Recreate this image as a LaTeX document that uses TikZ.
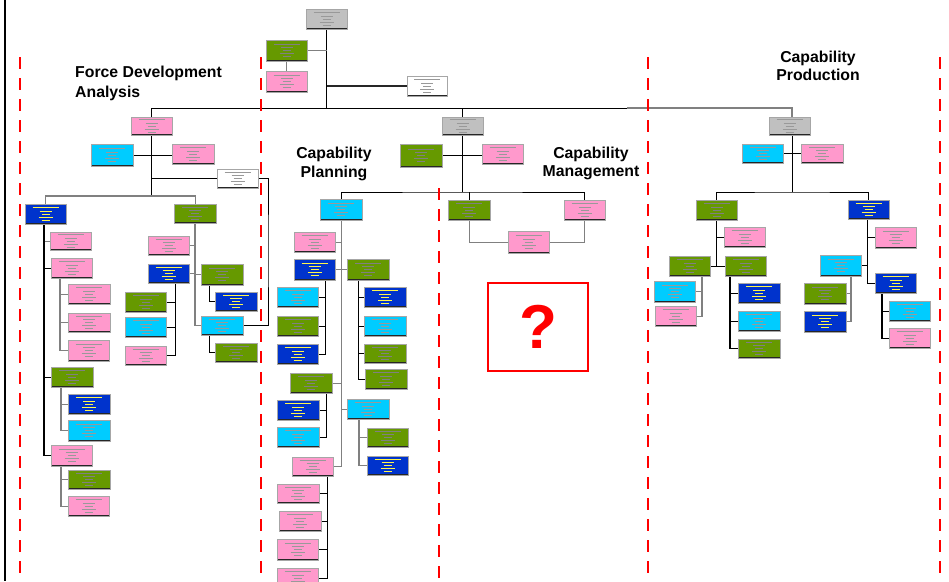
\documentclass[tikz,border=0pt]{standalone}
\usepackage{fontspec}
\setmainfont{Liberation Sans}
\usetikzlibrary{backgrounds}
\definecolor{pinkc}{HTML}{FF99CC}
\definecolor{cyanc}{HTML}{00CCFF}
\definecolor{greenc}{HTML}{669900}
\definecolor{bluec}{HTML}{0033CC}
\definecolor{grayc}{HTML}{C0C0C0}
\definecolor{redc}{HTML}{FF0000}
\definecolor{txtc}{HTML}{555555}
\newcommand\obox[6]{\node[obx,#2,minimum width=#5pt,minimum height=#6pt] (#1) at (#3,#4) {};}
\tikzset{
  txt/.code={\colorlet{txtc}{#1}},
  obx/.style={rectangle, draw=black!35, line width=0.4pt, inner sep=0pt, anchor=north west,
    path picture={
      \coordinate (ppc) at (path picture bounding box.center);
      \draw[line width=2.6pt, black!85] (path picture bounding box.south west) -- (path picture bounding box.south east);
      \foreach \yy/\ww in {-6.5/13, -3/6, 0/4, 3/7, 6/4}
        \draw[line width=0.45pt, txtc] ([shift={(-\ww,\yy)}]ppc) -- ([shift={(\ww,\yy)}]ppc);
    }},
  pinkb/.style={fill=pinkc, txt=black!40},
  cyanb/.style={fill=cyanc, txt=black!40},
  greenb/.style={fill=greenc, txt=black!50},
  blueb/.style={fill=bluec, txt=yellow!70},
  grayb/.style={fill=grayc, txt=black!40},
  whiteb/.style={fill=white, txt=black!40},
  ln/.style={draw=black, line width=0.9pt},
  lk/.style={draw=black, line width=1.4pt},
  lg/.style={draw=black!50, line width=1.1pt},
  lthick/.style={draw=black!85, line width=2pt},
  rdash/.style={draw=redc, line width=2pt, dash pattern=on 12pt off 9pt},
  lbl/.style={font=\fontsize{15.8}{19}\selectfont\bfseries, inner sep=0pt, anchor=base},
}
\begin{document}
\begin{tikzpicture}[x=1pt,y=-1pt]
\useasboundingbox (0,0) rectangle (949,581);
\begin{pgfonlayer}{background}
\fill[white] (0,0) rectangle (949,581);
\end{pgfonlayer}
% frame and dividers
\draw[line width=2.5pt, black] (5,0) -- (5,581);
\draw[rdash] (20,57) -- (20,581);
\draw[rdash] (261,57) -- (261,581);
\draw[rdash] (439,188) -- (439,581);
\draw[rdash] (648,57) -- (648,581);
\draw[rdash] (940,57) -- (940,581);
% section labels
\node[lbl, anchor=base west] (fdl1) at (75,77) {Force Development};
\node[lbl, anchor=base west] (fdl2) at (75,97) {Analysis};
\node[lbl] (cpl1) at (334,158) {Capability};
\node[lbl] (cpl2) at (334,177) {Planning};
\node[lbl] (cml1) at (591,158) {Capability};
\node[lbl] (cml2) at (591,176.5) {Management};
\node[lbl] (prl1) at (818,62) {Capability};
\node[lbl] (prl2) at (818,80.5) {Production};
% top
\obox{top}{grayb}{306}{9}{41}{20}
\obox{tg}{greenb}{266}{40}{41}{21}
\obox{tp}{pinkb}{266}{71}{41}{21}
\obox{tw}{whiteb}{407}{76}{40}{20}
% level 1
\obox{fd}{pinkb}{131}{117}{41}{18}
\obox{cp}{grayb}{442}{117}{41}{18}
\obox{pr}{grayb}{769}{117}{41}{18}
% force development
\obox{fdc}{cyanb}{91}{144}{42}{22}
\obox{fdp}{pinkb}{172}{144}{42}{20}
\obox{fdw}{whiteb}{217}{169}{41}{19}
\obox{fb}{blueb}{25}{204}{41}{20}
\obox{fg}{greenb}{174}{204}{42}{19}
\obox{fb1}{pinkb}{50}{232}{41}{18}
\obox{fb2}{pinkb}{51}{258}{41}{20}
\obox{fb2a}{pinkb}{68}{284}{42}{20}
\obox{fb2b}{pinkb}{68}{313}{42}{19}
\obox{fb2c}{pinkb}{68}{340}{41}{21}
\obox{fb3}{greenb}{51}{367}{42}{20}
\obox{fb3a}{blueb}{68}{394}{42}{20}
\obox{fb3b}{cyanb}{68}{420}{42}{21}
\obox{fb4}{pinkb}{51}{445}{41}{21}
\obox{fb4a}{greenb}{68}{470}{42}{19}
\obox{fb4b}{pinkb}{68}{496}{41}{20}
\obox{fg1}{pinkb}{148}{236}{41}{19}
\obox{fg2}{blueb}{148}{264}{41}{19}
\obox{fg3}{greenb}{201}{264}{42}{21}
\obox{fg3a}{blueb}{215}{292}{42}{19}
\obox{fg4}{cyanb}{201}{316}{42}{19}
\obox{fg4a}{greenb}{215}{343}{42}{19}
\obox{fg2a}{greenb}{125}{292}{41}{20}
\obox{fg2b}{cyanb}{125}{317}{41}{20}
\obox{fg2c}{pinkb}{125}{346}{41}{19}
% capability planning / management
\obox{cpg}{greenb}{400}{144}{42}{23}
\obox{cpp}{pinkb}{482}{144}{41}{20}
\obox{pl}{cyanb}{320}{199}{42}{21}
\obox{cm1}{greenb}{448}{200}{42}{20}
\obox{cm2}{pinkb}{564}{200}{41}{20}
\obox{cm3}{pinkb}{508}{231}{41}{22}
\obox{pl1}{pinkb}{294}{232}{41}{20}
\obox{pl2}{blueb}{294}{259}{41}{21}
\obox{pl2a}{cyanb}{277}{287}{41}{20}
\obox{pl2b}{greenb}{277}{316}{41}{20}
\obox{pl2c}{blueb}{277}{344}{41}{20}
\obox{pl3}{greenb}{347}{259}{42}{21}
\obox{pl3a}{blueb}{364}{287}{42}{20}
\obox{pl3b}{cyanb}{364}{316}{42}{20}
\obox{pl3c}{greenb}{364}{344}{42}{19}
\obox{pl3d}{greenb}{365}{369}{42}{20}
\obox{pl4}{greenb}{290}{373}{42}{20}
\obox{pl4a}{blueb}{277}{400}{42}{20}
\obox{pl4b}{cyanb}{277}{427}{42}{20}
\obox{pl5}{cyanb}{347}{399}{42}{20}
\obox{pl5a}{greenb}{367}{428}{41}{19}
\obox{pl5b}{blueb}{367}{456}{41}{19}
\obox{pl6}{pinkb}{292}{457}{41}{19}
\obox{pl6a}{pinkb}{277}{484}{42}{19}
\obox{pl6b}{pinkb}{279}{511}{42}{20}
\obox{pl6c}{pinkb}{277}{539}{41}{21}
\obox{pl6d}{pinkb}{277}{568}{41}{20}
% production
\obox{prc}{cyanb}{742}{144}{41}{19}
\obox{prp}{pinkb}{801}{144}{42}{19}
\obox{pa}{greenb}{696}{200}{41}{20}
\obox{pb}{blueb}{848}{200}{41}{19}
\obox{pa1}{pinkb}{724}{227}{41}{20}
\obox{pa2}{greenb}{669}{256}{41}{20}
\obox{pa3}{greenb}{725}{256}{41}{20}
\obox{pa2a}{cyanb}{654}{281}{41}{21}
\obox{pa2b}{pinkb}{655}{306}{41}{20}
\obox{pa3a}{blueb}{738}{283}{42}{20}
\obox{pa3b}{cyanb}{738}{311}{42}{20}
\obox{pa3c}{greenb}{738}{339}{42}{19}
\obox{pb1}{pinkb}{875}{227}{41}{21}
\obox{pb2}{cyanb}{820}{255}{41}{21}
\obox{pb2a}{greenb}{804}{283}{42}{21}
\obox{pb2b}{blueb}{804}{311}{42}{21}
\obox{pb3}{blueb}{875}{273}{41}{20}
\obox{pb3a}{cyanb}{889}{301}{41}{20}
\obox{pb3b}{pinkb}{889}{328}{41}{20}
% question box
\node[draw=redc, line width=2.5pt, minimum width=100pt, minimum height=88pt, inner sep=0pt] (qbox) at (538,327) {};
\node[text=redc, font=\fontsize{62}{62}\selectfont\bfseries, inner sep=0pt] (qmark) at (qbox.center) {?};
% coordinates
\coordinate (bj) at (627,108);
\coordinate (fdbar) at (152,196);
\coordinate (wr) at (268,250);
\coordinate (cpy) at (462,192);
\coordinate (pry) at (792,192);
\coordinate (prx) at (792,108);
\begin{pgfonlayer}{background}
% top connectors
\draw[ln] (top.south) -- (top.south |- bj);
\draw[lg] (tg.east) -- (tg.east -| top.south);
\draw[lg] (tg.south) -- (tp.north);
\draw[lthick] (tw.west) -- (tw.west -| top.south);
\draw[ln] (fd.north) |- (bj);
\draw[lg] (bj) -- (prx) -- (prx |- pr.north);
\draw[ln] (cp.north) -- (cp.north |- bj);
% force development
\draw[ln] (fd.south) -- (fd.south |- fdbar);
\draw[ln] (fdc.east) -- (fdc.east -| fdp.west);
\draw[ln] (fdw.west) -- (fdw.west -| fd.south);
\draw[line width=0.7pt] (fdw.east) -| (wr) |- (fg4.east);
\draw[lg] (fb.north) |- (fdbar) -| (fg.north);
\draw[lg] (fb.south west) ++(19,0) |- (fb1.west);
\draw[lk] (fb.south west) ++(19,0) |- (fb2.west);
\draw[lk] (fb.south west) ++(19,0) |- (fb3.west);
\draw[lk] (fb.south west) ++(19,0) |- (fb4.west);
\foreach \c in {fb2a,fb2b,fb2c} \draw[lg] (fb2.south west) ++(9,0) |- (\c.west);
\foreach \c in {fb3a,fb3b} \draw[lg] (fb3.south west) ++(10,0) |- (\c.west);
\foreach \c in {fb4a,fb4b} \draw[lg] (fb4.south west) ++(10,0) |- (\c.west);
\foreach \c in {fg1,fg2} \draw[lg] (fg.south west) ++(21,0) |- (\c.east);
\foreach \c in {fg3,fg4} \draw[lg] (fg.south west) ++(21,0) |- (\c.west);
\draw[ln] (fg3.south west) ++(8,0) |- (fg3a.west);
\draw[ln] (fg4.south west) ++(8,0) |- (fg4a.west);
\foreach \c in {fg2a,fg2b,fg2c} \draw[ln] (fg2.south west) ++(27,0) |- (\c.east);
% capability planning / management
\draw[ln] (cp.south) -- (cp.south |- cpy);
\draw[ln] (cpg.east) -- (cpg.east -| cpp.west);
\draw[ln] (pl.north) |- (cpy) -| (cm2.north);
\draw[ln] (cm1.north) -- (cm1.north |- cpy);
\draw[lg] (cm1.south) |- (cm3.west);
\draw[lg] (cm2.south) |- (cm3.east);
\foreach \c in {pl1,pl2,pl4,pl6} \draw[lg] (pl.south) |- (\c.east);
\foreach \c in {pl3,pl5} \draw[lg] (pl.south) |- (\c.west);
\foreach \c in {pl2a,pl2b,pl2c} \draw[ln] (pl2.south west) ++(31,0) |- (\c.east);
\foreach \c in {pl3a,pl3b,pl3c,pl3d} \draw[ln] (pl3.south west) ++(11,0) |- (\c.west);
\foreach \c in {pl4a,pl4b} \draw[ln] (pl4.south west) ++(36,0) |- (\c.east);
\foreach \c in {pl5a,pl5b} \draw[lg] (pl5.south west) ++(12,0) |- (\c.west);
\foreach \c in {pl6a,pl6b,pl6c,pl6d} \draw[ln] (pl6.south west) ++(35,0) |- (\c.east);
% production
\draw[ln] (pr.south west) ++(23,0) -- (pry);
\draw[ln] (prc.east) -- (prc.east -| prp.west);
\draw[ln] (pa.north) |- (pry) -| (pb.north);
\draw[ln] (pa.south) |- (pa1.west);
\draw[ln] (pa.south) |- (pa2.east);
\draw[ln] (pa2.east) -- (pa3.west);
\foreach \c in {pa2a,pa2b} \draw[lg] (pa2.south west) ++(33,0) |- (\c.east);
\foreach \c in {pa3a,pa3b,pa3c} \draw[lk] (pa3.south west) ++(5,0) |- (\c.west);
\draw[ln] (pb.south west) ++(19,0) |- (pb1.west);
\draw[ln] (pb.south west) ++(19,0) |- (pb2.east);
\draw[ln] (pb.south west) ++(19,0) |- (pb3.west);
\foreach \c in {pb2a,pb2b} \draw[lg] (pb2.south west) ++(31,0) |- (\c.east);
\foreach \c in {pb3a,pb3b} \draw[lk] (pb3.south west) ++(7,0) |- (\c.west);
\end{pgfonlayer}
\end{tikzpicture}
\end{document}
